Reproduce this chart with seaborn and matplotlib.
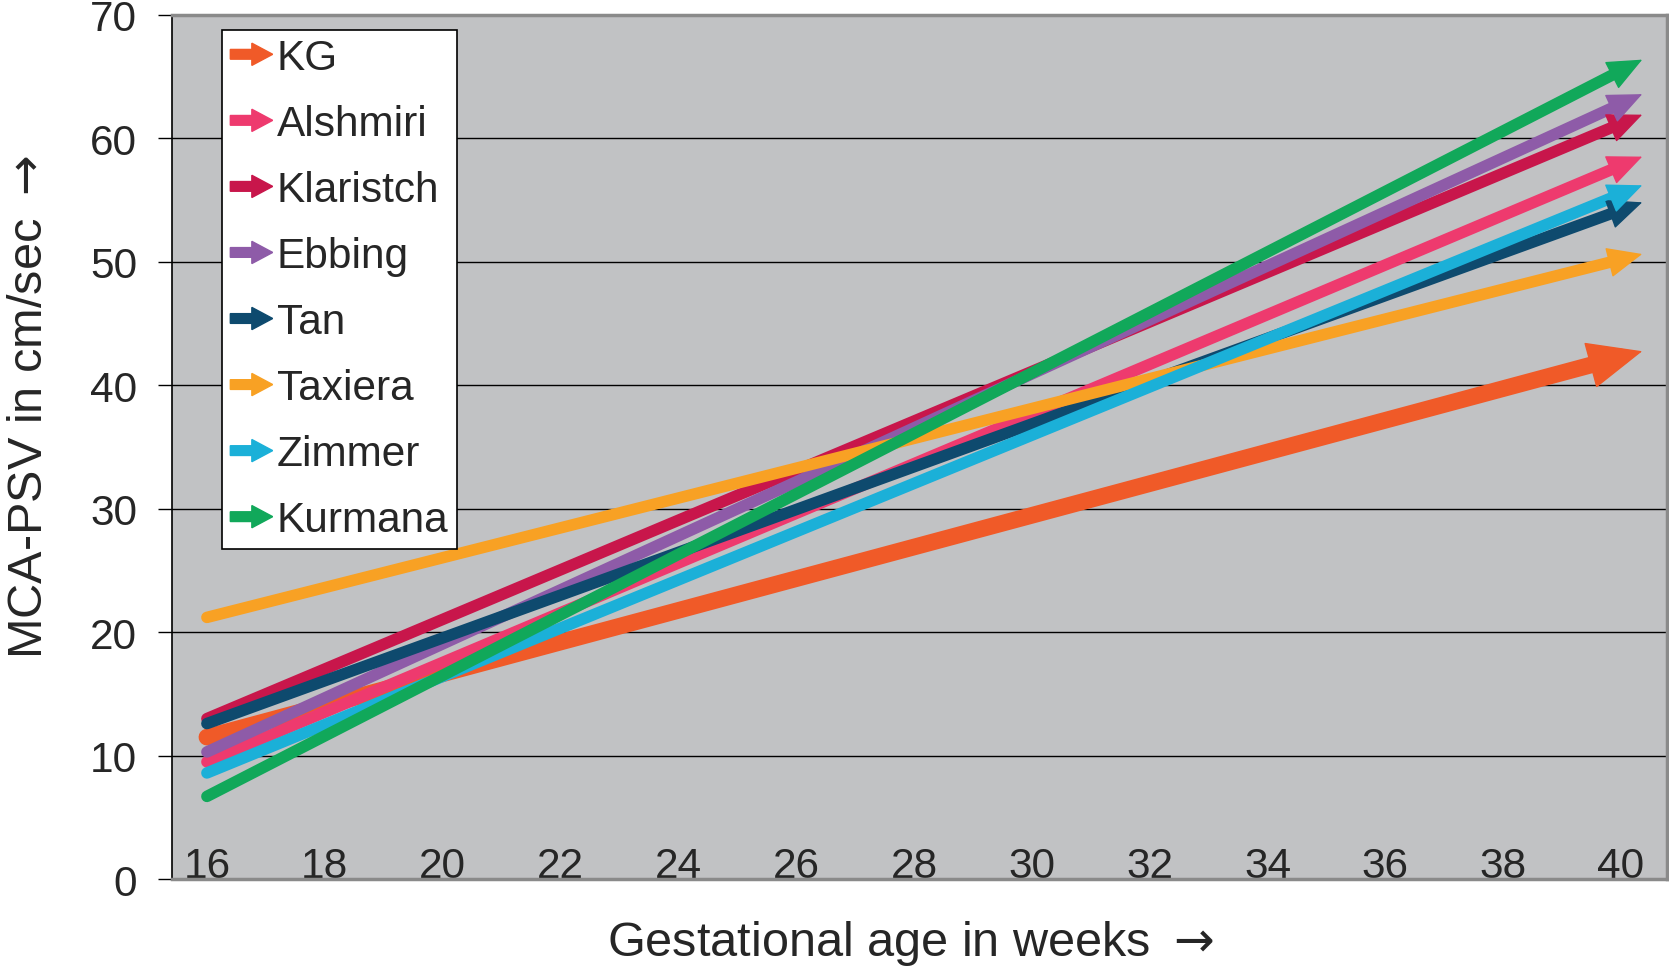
import numpy as np
import pandas as pd
import matplotlib
matplotlib.use("Agg")
import matplotlib.pyplot as plt
import matplotlib.patches as mpatches
from matplotlib.legend_handler import HandlerPatch
import seaborn as sns

# data (value at week 16 and week 40)
studies = ["KG", "Alshmiri", "Klaristch", "Ebbing", "Tan", "Taxiera", "Zimmer", "Kurmana"]
week_start = 16
week_end = 40
psv_start = [11.5, 9.5, 13.0, 10.3, 12.6, 21.2, 8.6, 6.7]
psv_end = [42.3, 57.8, 61.2, 62.8, 54.2, 50.2, 55.5, 65.5]
colors = ["#F05A28", "#EE3A6E", "#C8164B", "#8E5BA8", "#0E4A6E", "#F8A124", "#1BB0D8", "#11A85A"]
x_ticks = list(range(16, 41, 2))
y_ticks = list(range(0, 71, 10))

rows = []
for s, a, b in zip(studies, psv_start, psv_end):
    rows.append({"study": s, "week": week_start, "psv": a})
    rows.append({"study": s, "week": week_end, "psv": b})
df = pd.DataFrame(rows)

sns.set_style("white")
plt.rcParams["font.family"] = ["Liberation Sans", "DejaVu Sans"]
plt.rcParams["mathtext.fontset"] = "dejavusans"

fig = plt.figure(figsize=(16.69, 9.79), dpi=100)
ax = fig.add_axes([0.103, 0.101, 0.8958, 0.8827])
ax.set_facecolor("#C1C2C4")

for s, c in zip(studies, colors):
    lw = 12 if s == "KG" else 8.3
    sub = df[df["study"] == s]
    sns.lineplot(data=sub, x="week", y="psv", color=c, linewidth=lw, ax=ax,
                 solid_capstyle="round", zorder=3)
    # arrow head at the end of each line
    slope = (sub["psv"].iloc[1] - sub["psv"].iloc[0]) / (week_end - week_start)
    y_end = sub["psv"].iloc[1]
    tip = (week_end + 0.36, y_end + slope * 0.36)
    tail = (week_end - 1.0, y_end - slope * 1.0)
    if s == "KG":
        style = "-|>,head_length=37,head_width=16"
    else:
        style = "-|>,head_length=23,head_width=10"
    ax.annotate("", xy=tip, xytext=tail,
                arrowprops=dict(arrowstyle=style, mutation_scale=1, color=c, lw=1,
                                shrinkA=0, shrinkB=0), zorder=4)

ax.set_xlim(15.406, 40.78)
ax.set_ylim(0, 70)
ax.set_xticks(x_ticks)
ax.set_yticks(y_ticks)
ax.tick_params(axis="x", length=0, pad=-1.5, labelsize=30.5)
for lab in ax.get_xticklabels():
    lab.set_va("baseline")
ax.tick_params(axis="y", length=10, width=1, color="black", direction="out", pad=15, labelsize=30.5, left=True)
ax.grid(axis="y", color="black", linewidth=1)
ax.grid(axis="x", visible=False)
ax.set_axisbelow(True)

ax.spines["left"].set_color("black")
ax.spines["left"].set_linewidth(1.2)
for side in ["top", "right", "bottom"]:
    ax.spines[side].set_color("#8A8A8A")
    ax.spines[side].set_linewidth(2.5)

ax.set_xlabel(r"Gestational age in weeks $\rightarrow$", fontsize=35)
ax.set_ylabel(r"MCA-PSV in cm/sec $\rightarrow$", fontsize=35)
ax.xaxis.set_label_coords(0.494, -0.045)
ax.yaxis.set_label_coords(-0.080, 0.547)


def make_arrow(legend, orig_handle, xdescent, ydescent, width, height, fontsize):
    return mpatches.FancyArrow(-xdescent, -ydescent + height / 2, width, 0,
                               width=7, head_width=16, head_length=15,
                               length_includes_head=True)


handles = [mpatches.Patch(color=c, label=s) for s, c in zip(studies, colors)]
leg = ax.legend(handles=handles, loc="upper left", bbox_to_anchor=(0.0334, 0.983),
                borderaxespad=0, fontsize=30.5, frameon=True, fancybox=False,
                edgecolor="black", framealpha=1, borderpad=0.2, labelspacing=0.615,
                handlelength=1.0, handletextpad=0.1,
                handler_map={mpatches.Patch: HandlerPatch(patch_func=make_arrow)})
leg.get_frame().set_linewidth(1.2)
leg.set_zorder(5)

fig.savefig("out.png", dpi=100)
